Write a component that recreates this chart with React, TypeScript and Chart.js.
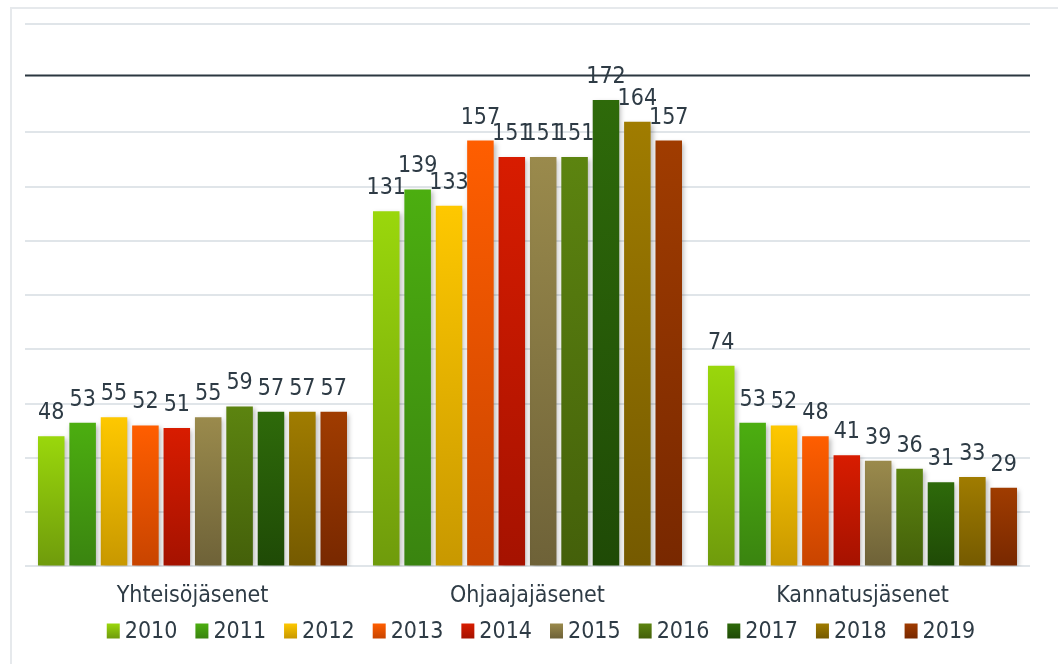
import React, { useEffect, useRef } from "react";
import { Chart, registerables } from "chart.js";

Chart.register(...registerables);

const categories = ["Yhteisöjäsenet", "Ohjaajajäsenet", "Kannatusjäsenet"];
const years = ["2010", "2011", "2012", "2013", "2014", "2015", "2016", "2017", "2018", "2019"];
const values2010 = [48, 131, 74];
const values2011 = [53, 139, 53];
const values2012 = [55, 133, 52];
const values2013 = [52, 157, 48];
const values2014 = [51, 151, 41];
const values2015 = [55, 151, 39];
const values2016 = [59, 151, 36];
const values2017 = [57, 172, 31];
const values2018 = [57, 164, 33];
const values2019 = [57, 157, 29];
const seriesValues = [
  values2010, values2011, values2012, values2013, values2014,
  values2015, values2016, values2017, values2018, values2019,
];
const topColors = ["#9ad70c", "#4cae10", "#fec800", "#ff5e00", "#d81c00", "#9a8a4c", "#5c8410", "#2e6a0a", "#a07c00", "#a03c00"];
const bottomColors = ["#6f9b0c", "#3a8410", "#c89800", "#c84400", "#a51200", "#6e6238", "#44600a", "#1f4a06", "#755a00", "#782800"];
const referenceLineValue = 181;

const FONT = "'DejaVu Sans Condensed', 'DejaVu Sans', sans-serif";
const TEXT_COLOR = "#2e3b45";
const FONT_SIZE = 23;

const overlayPlugin = {
  id: "overlay",
  beforeDatasetsDraw(chart: any) {
    const { ctx, chartArea, scales } = chart;
    const y = scales.y.getPixelForValue(referenceLineValue);
    ctx.save();
    ctx.strokeStyle = "#2b3740";
    ctx.lineWidth = 2;
    ctx.beginPath();
    ctx.moveTo(chartArea.left, y);
    ctx.lineTo(chartArea.right, y);
    ctx.stroke();
    ctx.restore();
    ctx.save();
    ctx.shadowColor = "rgba(0,0,0,0.28)";
    ctx.shadowBlur = 5;
    ctx.shadowOffsetX = 2;
    ctx.shadowOffsetY = 2;
  },
  afterDatasetsDraw(chart: any) {
    const { ctx } = chart;
    ctx.restore();
    ctx.save();
    ctx.font = `${FONT_SIZE}px ${FONT}`;
    ctx.fillStyle = TEXT_COLOR;
    ctx.textAlign = "center";
    ctx.textBaseline = "alphabetic";
    chart.data.datasets.forEach((ds: any, di: number) => {
      const meta = chart.getDatasetMeta(di);
      meta.data.forEach((el: any, i: number) => {
        ctx.fillText(String(ds.data[i]), el.x, el.y - 17);
      });
    });
    ctx.restore();
  },
  afterDraw(chart: any) {
    const { ctx } = chart;
    ctx.save();
    ctx.font = `${FONT_SIZE}px ${FONT}`;
    ctx.textBaseline = "middle";
    ctx.textAlign = "left";
    const boxW = 13, boxH = 15, gapText = 5, gapItem = 18;
    const widths = years.map((t) => boxW + gapText + ctx.measureText(t).width);
    const total = widths.reduce((a, b) => a + b, 0) + gapItem * (years.length - 1);
    const centerX = 541;
    const cy = 631;
    let x = centerX - total / 2;
    years.forEach((t, i) => {
      const g = ctx.createLinearGradient(0, cy - boxH / 2, 0, cy + boxH / 2);
      g.addColorStop(0, topColors[i]);
      g.addColorStop(1, bottomColors[i]);
      ctx.fillStyle = g;
      ctx.fillRect(x, cy - boxH / 2, boxW, boxH);
      ctx.fillStyle = TEXT_COLOR;
      ctx.fillText(t, x + boxW + gapText, cy + 1);
      x += widths[i] + gapItem;
    });
    ctx.restore();
  },
};

export default function App() {
  const canvasRef = useRef<HTMLCanvasElement | null>(null);

  useEffect(() => {
    const canvas = canvasRef.current;
    if (!canvas) return;
    const chart = new Chart(canvas, {
      type: "bar",
      data: {
        labels: categories,
        datasets: years.map((year, i) => ({
          label: year,
          data: seriesValues[i],
          borderWidth: 0,
          backgroundColor: (c: any) => {
            const ch = c.chart;
            if (!ch.chartArea || c.type !== "data" || !ch.scales.y) return topColors[i];
            const yTop = ch.scales.y.getPixelForValue(c.raw);
            const yBot = ch.scales.y.getPixelForValue(0);
            const g = ch.ctx.createLinearGradient(0, yTop, 0, yBot);
            g.addColorStop(0, topColors[i]);
            g.addColorStop(1, bottomColors[i]);
            return g;
          },
          barPercentage: 0.845,
          categoryPercentage: 0.937,
        })),
      },
      options: {
        responsive: true,
        maintainAspectRatio: false,
        animation: false,
        events: [],
        layout: { padding: { left: 25, right: 28, top: 24, bottom: 38 } },
        plugins: {
          legend: { display: false },
          tooltip: { enabled: false },
        },
        scales: {
          x: {
            grid: { display: false, drawTicks: false },
            border: { display: false },
            ticks: {
              color: TEXT_COLOR,
              font: { family: FONT, size: FONT_SIZE },
              padding: 16,
            },
          },
          y: {
            min: 0,
            max: 200,
            grid: {
              drawTicks: false,
              lineWidth: 2,
              color: (c: any) => (c.tick && c.tick.value === 180 ? "rgba(0,0,0,0)" : "#e0e5e9"),
            },
            border: { display: false },
            ticks: { display: false, stepSize: 20 },
          },
        },
      },
      plugins: [overlayPlugin],
    });
    return () => chart.destroy();
  }, []);

  return (
    <div style={{ position: "fixed", left: 0, top: 0, width: 1058, height: 664, background: "#ffffff" }}>
      <div style={{ position: "absolute", left: 10, top: 7, width: 1048, height: 2, background: "#e6e9ec" }} />
      <div style={{ position: "absolute", left: 10, top: 7, width: 2, height: 657, background: "#e6e9ec" }} />
      <canvas ref={canvasRef} style={{ position: "absolute", left: 0, top: 0 }} />
    </div>
  );
}
